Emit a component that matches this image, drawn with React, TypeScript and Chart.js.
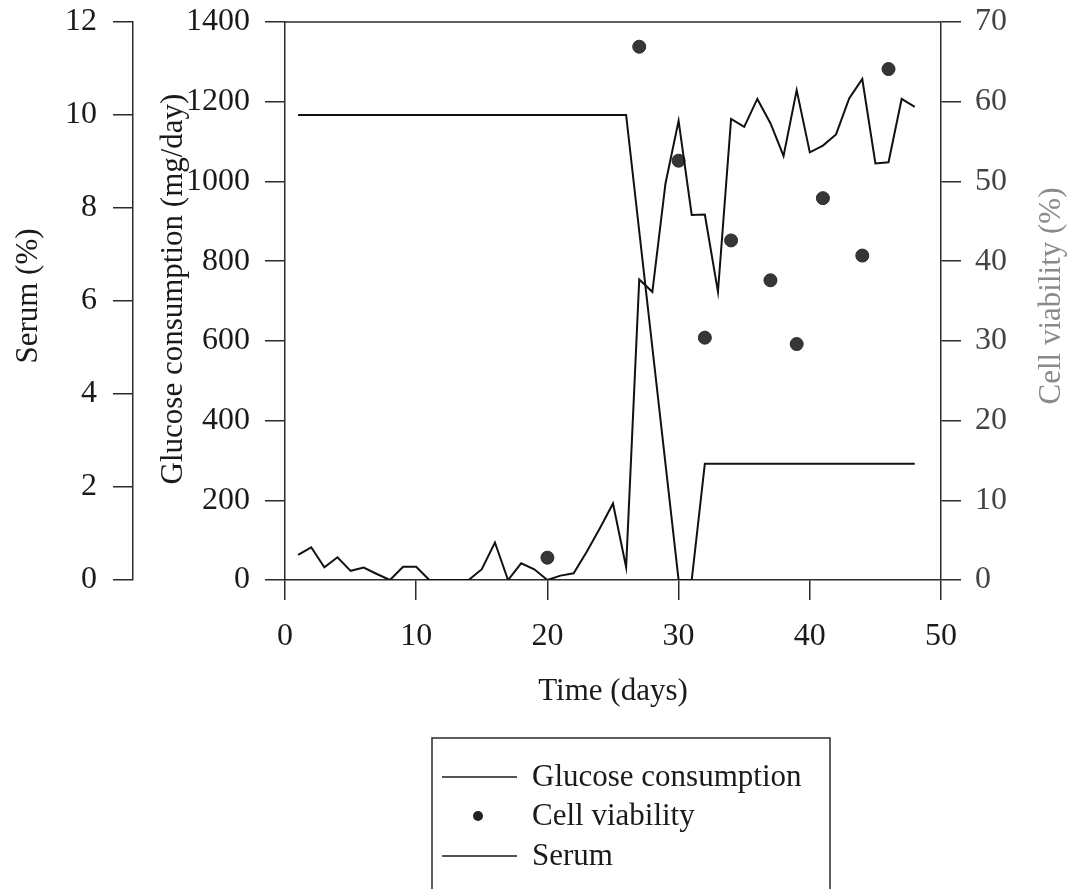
import React, { useEffect, useRef } from 'react';
import { Chart, registerables } from 'chart.js';

Chart.register(...registerables);

// ---- data ----
const glucoseDays = [
  1, 2, 3, 4, 5, 6, 7, 8, 9, 10, 11, 12, 13, 14, 15, 16, 17, 18, 19, 20, 21, 22, 23, 24,
  25, 26, 27, 28, 29, 30, 31, 32, 33, 34, 35, 36, 37, 38, 39, 40, 41, 42, 43, 44, 45, 46, 47, 48,
];
const glucoseValues = [
  63, 82, 32, 57, 23, 31, 15, 0, 33, 33, 0, 0, 0, 0, 27, 94, 0, 42, 27, 0, 11, 17, 71, 130,
  192, 32, 754, 723, 995, 1152, 916, 917, 723, 1157, 1137, 1207, 1146, 1064, 1229, 1073, 1090, 1118, 1208, 1257, 1045, 1048, 1207, 1187,
];
const viabilityDays = [20, 27, 30, 32, 34, 37, 39, 41, 44, 46];
const viabilityValues = [2.8, 66.9, 52.6, 30.4, 42.6, 37.6, 29.6, 47.9, 40.7, 64.1];
const serumDays = [1, 26, 30, 31, 32, 48];
const serumValues = [10, 10, 0, 0, 2.5, 2.5];

const xTicks = [0, 10, 20, 30, 40, 50];
const glucoseTicks = [0, 200, 400, 600, 800, 1000, 1200, 1400];
const serumTicks = [0, 2, 4, 6, 8, 10, 12];
const viabilityTicks = [0, 10, 20, 30, 40, 50, 60, 70];

const xTitle = 'Time (days)';
const glucoseTitle = 'Glucose consumption (mg/day)';
const serumTitle = 'Serum (%)';
const viabilityTitle = 'Cell viability (%)';

const FONT = '"Liberation Serif", "Times New Roman", serif';
const AXIS = '#2b2b2b';

const titlesAndLegend = {
  id: 'titlesAndLegend',
  afterDraw(chart: any) {
    const ctx = chart.ctx;
    const area = chart.chartArea;
    ctx.save();
    // top border of the plot box
    ctx.strokeStyle = AXIS;
    ctx.lineWidth = 1.5;
    ctx.beginPath();
    ctx.moveTo(area.left, area.top);
    ctx.lineTo(area.right, area.top);
    ctx.stroke();

    // axis titles
    const sY = chart.scales.yS;
    const gY = chart.scales.yG;
    const vY = chart.scales.yV;
    const xS = chart.scales.x;
    ctx.font = `31px ${FONT}`;
    ctx.textAlign = 'center';
    ctx.textBaseline = 'middle';

    const vert = (text: string, x: number, y: number, color: string) => {
      ctx.save();
      ctx.translate(x, y);
      ctx.rotate(-Math.PI / 2);
      ctx.fillStyle = color;
      ctx.fillText(text, 0, 0);
      ctx.restore();
    };
    const midY = (area.top + area.bottom) / 2;
    vert(serumTitle, sY.left + 29, midY - 5, '#1a1a1a');
    vert(glucoseTitle, gY.left + 41, midY - 12, '#1a1a1a');
    vert(viabilityTitle, vY.left + 111, midY - 5, '#8a8a8a');
    ctx.fillStyle = '#1a1a1a';
    ctx.fillText(xTitle, (area.left + area.right) / 2, xS.top + 112);

    // legend box
    const lx = 432, ly = 738, lr = 830;
    ctx.strokeStyle = AXIS;
    ctx.lineWidth = 1.5;
    ctx.beginPath();
    ctx.moveTo(lx, chart.height + 5);
    ctx.lineTo(lx, ly);
    ctx.lineTo(lr, ly);
    ctx.lineTo(lr, chart.height + 5);
    ctx.stroke();

    const ds = chart.data.datasets;
    const rows = [777, 816, 856];
    ctx.textAlign = 'left';
    ds.forEach((d: any, i: number) => {
      const y = rows[i];
      if (d.showLine === false) {
        ctx.fillStyle = '#222';
        ctx.beginPath();
        ctx.arc(478, y, 5, 0, Math.PI * 2);
        ctx.fill();
      } else {
        ctx.strokeStyle = '#1a1a1a';
        ctx.lineWidth = 1.5;
        ctx.beginPath();
        ctx.moveTo(442, y);
        ctx.lineTo(517, y);
        ctx.stroke();
      }
      ctx.fillStyle = '#1a1a1a';
      ctx.fillText(d.label, 532, y + 1);
    });
    ctx.restore();
  },
};

export default function App() {
  const canvasRef = useRef<HTMLCanvasElement | null>(null);

  useEffect(() => {
    if (!canvasRef.current) return;
    const tickFont = { family: FONT, size: 32, lineHeight: 1 };
    const fixedTicks = (vals: number[]) => (scale: any) => {
      scale.ticks = vals.map((v) => ({ value: v }));
    };
    const plain = (v: any) => String(v);
    const fitY = (w: number) => (s: any) => {
      s.width = w;
      s.paddingTop = 0;
      s.paddingBottom = 0;
    };
    const chart = new Chart(canvasRef.current, {
      type: 'line',
      data: {
        datasets: [
          {
            label: 'Glucose consumption',
            data: glucoseDays.map((d, i) => ({ x: d, y: glucoseValues[i] })),
            yAxisID: 'yG',
            borderColor: '#111',
            borderWidth: 2,
            pointRadius: 0,
            tension: 0,
          },
          {
            label: 'Cell viability',
            data: viabilityDays.map((d, i) => ({ x: d, y: viabilityValues[i] })),
            yAxisID: 'yV',
            showLine: false,
            pointRadius: 6.5,
            pointBackgroundColor: '#363636',
            pointBorderColor: '#2a2a2a',
            pointBorderWidth: 1,
          },
          {
            label: 'Serum',
            data: serumDays.map((d, i) => ({ x: d, y: serumValues[i] })),
            yAxisID: 'yS',
            borderColor: '#111',
            borderWidth: 2,
            pointRadius: 0,
            tension: 0,
          },
        ],
      },
      options: {
        responsive: false,
        animation: false,
        devicePixelRatio: 1,
        layout: { padding: { top: 22, left: 0, right: 0, bottom: 0 } },
        plugins: { legend: { display: false }, tooltip: { enabled: false } },
        scales: {
          x: {
            type: 'linear',
            position: 'bottom',
            min: 0,
            max: 50,
            afterBuildTicks: fixedTicks(xTicks),
            afterFit: (s: any) => { s.height = 889 - 580; s.paddingLeft = 0; s.paddingRight = 0; },
            ticks: { font: tickFont, color: '#1a1a1a', padding: 21, maxRotation: 0, callback: plain },
            grid: { drawOnChartArea: false, tickLength: 20, color: AXIS, lineWidth: 1.5 },
            border: { display: true, color: AXIS, width: 1.5 },
          },
          yG: {
            type: 'linear',
            position: 'left',
            weight: 0,
            min: 0,
            max: 1400,
            afterBuildTicks: fixedTicks(glucoseTicks),
            afterFit: fitY(285 - 133),
            ticks: { font: tickFont, color: '#1a1a1a', padding: 15, callback: plain },
            grid: { drawOnChartArea: false, tickLength: 20, color: AXIS, lineWidth: 1.5 },
            border: { display: true, color: AXIS, width: 1.5 },
          },
          yS: {
            type: 'linear',
            position: 'left',
            weight: 1,
            min: 0,
            max: 12,
            afterBuildTicks: fixedTicks(serumTicks),
            afterFit: fitY(133),
            ticks: { font: tickFont, color: '#1a1a1a', padding: 16, callback: plain },
            grid: { drawOnChartArea: false, tickLength: 20, color: AXIS, lineWidth: 1.5 },
            border: { display: true, color: AXIS, width: 1.5 },
          },
          yV: {
            type: 'linear',
            position: 'right',
            min: 0,
            max: 70,
            afterBuildTicks: fixedTicks(viabilityTicks),
            afterFit: fitY(1068 - 941),
            ticks: { font: tickFont, color: '#444', padding: 14, callback: plain },
            grid: { drawOnChartArea: false, tickLength: 20, color: AXIS, lineWidth: 1.5 },
            border: { display: true, color: AXIS, width: 1.5 },
          },
        },
      },
      plugins: [titlesAndLegend],
    } as any);
    return () => chart.destroy();
  }, []);

  return (
    <div style={{ position: 'absolute', left: 0, top: 0, width: 1068, height: 889, background: '#fff' }}>
      <canvas ref={canvasRef} width={1068} height={889} style={{ display: 'block' }} />
    </div>
  );
}
